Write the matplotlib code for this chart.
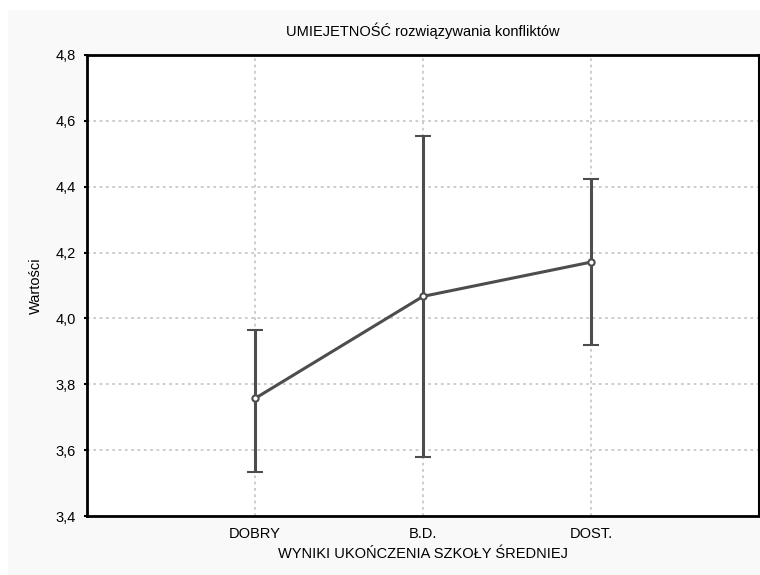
import matplotlib
matplotlib.use("Agg")
import matplotlib.pyplot as plt
from matplotlib.patches import Rectangle

categories = ["DOBRY", "B.D.", "DOST."]
means = [3.757, 4.067, 4.171]
upper = [3.965, 4.553, 4.422]
lower = [3.533, 3.578, 3.918]
yticks = [3.4, 3.6, 3.8, 4.0, 4.2, 4.4, 4.6, 4.8]
ytick_labels = ["3,4", "3,6", "3,8", "4,0", "4,2", "4,4", "4,6", "4,8"]

plt.rcParams['font.family'] = ['Liberation Sans', 'DejaVu Sans']

fig = plt.figure(figsize=(7.6, 5.75), dpi=100)
fig.patch.set_facecolor("white")
fig.patches.append(Rectangle((8/760, 0), 1 - 8/760, 1 - 10/575, transform=fig.transFigure,
                             facecolor="#f9f9f9", edgecolor="none", zorder=-10))

ax = fig.add_axes([87/760, 1 - 516/575, (759 - 87)/760, (516 - 55)/575])
ax.set_facecolor("white")

x = [1, 2, 3]
yerr = [[m - l for m, l in zip(means, lower)], [u - m for m, u in zip(means, upper)]]
col = "#4d4d4d"
ax.errorbar(x, means, yerr=yerr, color=col, lw=2.2, elinewidth=2.2, capsize=6, capthick=2.2,
            marker="o", ms=4.5, mfc="white", mec=col, mew=1.5, zorder=3)

ax.set_xlim(0, 4)
ax.set_ylim(3.4, 4.8)
ax.set_xticks(x)
ax.set_xticklabels(categories, fontsize=10.5)
ax.set_yticks(yticks)
ax.set_yticklabels(ytick_labels, fontsize=10.5)
ax.tick_params(axis="x", length=0, pad=8)
ax.tick_params(axis="y", length=2, width=1.5, pad=6, direction="out")
ax.grid(True, color="#c8c8c8", linestyle=(0, (1.5, 2.0)), linewidth=1.3, zorder=0)
ax.set_axisbelow(True)
for s in ax.spines.values():
    s.set_linewidth(2)
    s.set_color("black")
ax.spines["right"].set_linewidth(1.5)

ax.set_title("UMIEJETNOŚĆ rozwiązywania konfliktów", fontsize=10.5, pad=14)
ax.set_xlabel("WYNIKI UKOŃCZENIA SZKOŁY ŚREDNIEJ", fontsize=10.5, labelpad=4)
ax.set_ylabel("Wartości", fontsize=10.5, labelpad=9)

fig.savefig("out.png", dpi=100, facecolor=fig.get_facecolor())
